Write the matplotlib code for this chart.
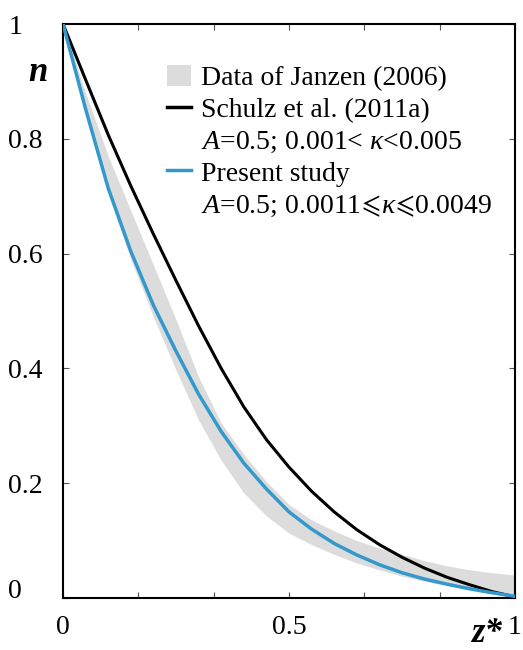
import matplotlib
matplotlib.use("Agg")
import matplotlib.pyplot as plt
from matplotlib.lines import Line2D
from matplotlib.patches import Patch

# values
z_star = [0.0, 0.05, 0.1, 0.15, 0.2, 0.25, 0.3, 0.35, 0.4, 0.45, 0.5,
          0.55, 0.6, 0.65, 0.7, 0.75, 0.8, 0.85, 0.9, 0.95, 1.0]
present_n = [1.0, 0.852, 0.714, 0.604, 0.51, 0.43, 0.355, 0.29, 0.235, 0.19, 0.15,
             0.12, 0.095, 0.075, 0.058, 0.044, 0.033, 0.024, 0.016, 0.009, 0.003]
schulz_n = [1.0, 0.903, 0.807, 0.718, 0.634, 0.553, 0.474, 0.4, 0.333, 0.276, 0.228,
            0.186, 0.15, 0.119, 0.093, 0.071, 0.052, 0.036, 0.023, 0.011, 0.002]
janzen_lower = [1.0, 0.84, 0.705, 0.59, 0.49, 0.397, 0.31, 0.24, 0.183, 0.143, 0.113,
                0.093, 0.076, 0.061, 0.049, 0.038, 0.029, 0.022, 0.015, 0.009, 0.004]
janzen_upper = [1.0, 0.88, 0.77, 0.675, 0.58, 0.485, 0.385, 0.305, 0.25, 0.203, 0.163,
                0.136, 0.117, 0.1, 0.087, 0.076, 0.065, 0.056, 0.049, 0.044, 0.040]

x_ticks = [0, 1/6, 2/6, 3/6, 4/6, 5/6, 1]
x_ticklabels = ["0", "", "", "0.5", "", "", "1"]
y_ticks = [0, 0.2, 0.4, 0.6, 0.8, 1.0]
y_ticklabels = ["0", "0.2", "0.4", "0.6", "0.8", "1"]

legend_labels = [
    "Data of Janzen (2006)",
    "Schulz et al. (2011a)",
    r"$A$=0.5; 0.001< $\kappa$<0.005",
    "Present study",
    r"$A$=0.5; 0.0011$\!\leqslant\!\kappa\!\leqslant\!$0.0049",
]

BLUE = "#3399cc"
GRAY = "#dcdcdc"

plt.rcParams["font.family"] = ["Liberation Serif", "DejaVu Serif", "DejaVu Sans"]
plt.rcParams["mathtext.fontset"] = "custom"
plt.rcParams["mathtext.rm"] = "Liberation Serif"
plt.rcParams["mathtext.it"] = "Liberation Serif:italic"
plt.rcParams["mathtext.bf"] = "Liberation Serif:bold"
plt.rcParams["mathtext.fallback"] = "stix"

fig = plt.figure(figsize=(5.23, 6.5), dpi=100)
ax = fig.add_axes([63 / 523, 52 / 650, 452 / 523, 574 / 650])

ax.fill_between(z_star, janzen_lower, janzen_upper, color=GRAY, lw=0, zorder=1)
ax.plot(z_star, schulz_n, color="black", lw=2.2, zorder=2)
ax.plot(z_star, present_n, color=BLUE, lw=2.5, zorder=3)

ax.set_xlim(0, 1)
ax.set_ylim(0, 1)
ax.set_xticks(x_ticks)
ax.set_xticklabels(x_ticklabels)
ax.set_yticks(y_ticks)
ax.set_yticklabels(y_ticklabels)
ax.tick_params(direction="in", top=True, right=True, length=4, width=0.8,
               color="#555555", labelsize=20)
ax.tick_params(axis="x", pad=12)
ax.tick_params(axis="y", pad=39.5)
for lbl in ax.get_yticklabels():
    lbl.set_horizontalalignment("left")
ax.get_yticklabels()[0].set_verticalalignment("baseline")
for sp in ax.spines.values():
    sp.set_linewidth(1.5)

ax.text(-0.055, 0.916, "n", transform=ax.transAxes, fontsize=25,
        fontweight="bold", fontstyle="italic", ha="center", va="center")
ax.text(0.94, -0.061, "z*", transform=ax.transAxes, fontsize=25,
        fontweight="bold", fontstyle="italic", ha="center", va="center")

handles = [
    Patch(facecolor=GRAY, edgecolor="none"),
    Line2D([], [], color="black", lw=2.5),
    Line2D([], [], color="none"),
    Line2D([], [], color=BLUE, lw=2.5),
    Line2D([], [], color="none"),
]
ax.legend(handles, legend_labels, loc="upper left", bbox_to_anchor=(0.23, 0.929),
          frameon=False, fontsize=20, handlelength=0.85, handleheight=0.8,
          handletextpad=0.38, labelspacing=0.2, borderpad=0, borderaxespad=0)

fig.savefig("out.png", dpi=100)
plt.close(fig)
